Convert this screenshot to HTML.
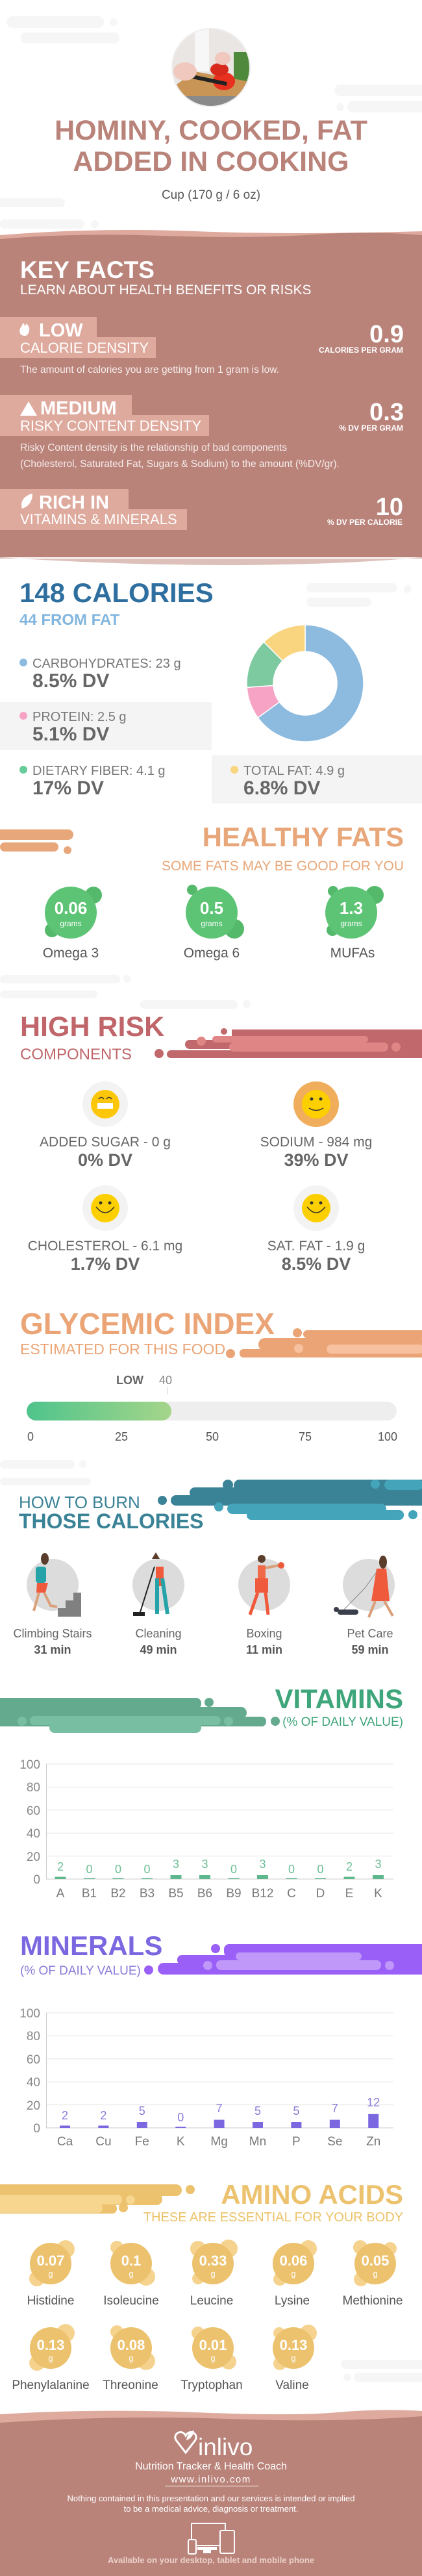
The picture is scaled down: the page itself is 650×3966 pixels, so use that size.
<!DOCTYPE html>
<html><head><meta charset="utf-8"><style>
html,body{margin:0;padding:0;background:#fff;}
svg{display:block;}
text{font-family:"Liberation Sans",sans-serif;}
</style></head><body>
<svg width="650" height="3966" viewBox="0 0 650 3966" xmlns="http://www.w3.org/2000/svg">
<rect width="650" height="3966" fill="#fff"/>
<g fill="#f6f6f6">
<rect x="10" y="25" width="150" height="18" rx="9"/><rect x="32" y="50" width="152" height="17" rx="8"/><circle cx="175" cy="34" r="6"/>
<rect x="515" y="130" width="160" height="18" rx="9"/><rect x="535" y="155" width="130" height="18" rx="9"/><circle cx="524" cy="165" r="6"/>
<rect x="-10" y="305" width="110" height="14" rx="7"/><rect x="0" y="338" width="130" height="14" rx="7"/><circle cx="146" cy="345" r="6"/>
<rect x="472" y="898" width="140" height="14" rx="7"/><rect x="472" y="920" width="100" height="14" rx="7"/><circle cx="628" cy="907" r="6"/>
<rect x="0" y="1501" width="185" height="13" rx="6"/><rect x="0" y="1525" width="150" height="12" rx="6"/><circle cx="196" cy="1507" r="6"/>
<rect x="216" y="1540" width="150" height="13" rx="6"/><circle cx="380" cy="1546" r="6"/>
<rect x="0" y="2248" width="115" height="13" rx="6"/><rect x="0" y="2275" width="140" height="12" rx="6"/><circle cx="128" cy="2254" r="6"/>
<rect x="525" y="3633" width="140" height="14" rx="7"/><rect x="545" y="3653" width="120" height="14" rx="7"/><circle cx="535" cy="3660" r="6"/>
</g>
<clipPath id="ci"><circle cx="325" cy="104" r="59"/></clipPath>
<circle cx="325" cy="104" r="61" fill="#eee"/>
<g clip-path="url(#ci)">
<rect x="260" y="40" width="130" height="130" fill="#e9e6e4"/>
<rect x="300" y="40" width="22" height="70" fill="#f7f7f7"/>
<rect x="360" y="80" width="30" height="50" fill="#4f8a3c"/>
<polygon points="265,135 300,110 380,125 370,150 270,165" fill="#c99557"/>
<rect x="262" y="148" width="130" height="30" fill="#8a8a8a"/>
<ellipse cx="345" cy="125" rx="17" ry="14" fill="#e8301f"/>
<ellipse cx="338" cy="107" rx="14" ry="10" fill="#d82a1c"/>
<rect x="290" y="120" width="60" height="6" fill="#222" transform="rotate(12 320 123)"/>
<ellipse cx="285" cy="110" rx="18" ry="14" fill="#f0c8bd"/>
<ellipse cx="343" cy="90" rx="12" ry="10" fill="#f0c8bd"/>
<circle cx="272" cy="160" r="10" fill="#f29d27"/>
</g>
<g fill="#b9837a" font-weight="bold" font-size="43" text-anchor="middle">
<text x="325" y="215">HOMINY, COOKED, FAT</text>
<text x="325" y="263">ADDED IN COOKING</text>
</g>
<text x="325" y="306" font-size="19" fill="#555" text-anchor="middle">Cup (170 g / 6 oz)</text>

<path d="M0 362 Q150 350 300 356 T650 356 L650 380 L0 380Z" fill="#dfaa9e"/>
<path d="M0 368 Q120 358 250 363 Q400 368 500 360 Q580 356 650 362 L650 858 L0 858Z" fill="#b9837a"/>
<path d="M0 858 Q180 870 350 870 Q520 870 650 858 L650 860 L0 860Z" fill="#dcc0b9"/>
<text x="31" y="428" font-size="37" font-weight="bold" fill="#fff">KEY FACTS</text>
<text x="31" y="453" font-size="21" fill="#fff">LEARN ABOUT HEALTH BENEFITS OR RISKS</text>
<g fill="#dfaa9e">
<rect x="0" y="488" width="149" height="32"/><rect x="0" y="519" width="240" height="32"/>
<rect x="0" y="608" width="203" height="32"/><rect x="0" y="639" width="322" height="32"/>
<rect x="0" y="753" width="198" height="32"/><rect x="0" y="784" width="288" height="32"/>
</g>
<g fill="#fff">
<path d="M38 517 c-7 0 -9 -6 -7 -11 c1 -3 4 -5 4 -9 c3 2 3 4 3 6 c1 -2 2 -3 2 -5 c4 3 6 7 5 11 c-1 5 -3 8 -7 8z"/>
<text x="60" y="518" font-size="29" font-weight="bold">LOW</text>
<text x="31" y="543" font-size="22">CALORIE DENSITY</text>
<text x="31" y="574" font-size="15.5" fill="#f6ebe8">The amount of calories you are getting from 1 gram is low.</text>
<text x="622" y="527" font-size="38" font-weight="bold" text-anchor="end">0.9</text>
<text x="621" y="543" font-size="12" font-weight="bold" text-anchor="end">CALORIES PER GRAM</text>
<path d="M44 618 L57 640 L31 640Z"/>
<text x="62" y="638" font-size="29" font-weight="bold">MEDIUM</text>
<text x="31" y="663" font-size="22">RISKY CONTENT DENSITY</text>
<text x="31" y="694" font-size="15.5" fill="#f6ebe8">Risky Content density is the relationship of bad components</text>
<text x="31" y="719" font-size="15.5" fill="#f6ebe8">(Cholesterol, Saturated Fat, Sugars &amp; Sodium) to the amount (%DV/gr).</text>
<text x="622" y="647" font-size="38" font-weight="bold" text-anchor="end">0.3</text>
<text x="621" y="663" font-size="12" font-weight="bold" text-anchor="end">% DV PER GRAM</text>
<path d="M34 783 C30 770 40 762 50 760 C50 772 44 780 34 783Z"/>
<text x="60" y="783" font-size="29" font-weight="bold">RICH  IN</text>
<text x="31" y="807" font-size="22">VITAMINS &amp; MINERALS</text>
<text x="621" y="793" font-size="38" font-weight="bold" text-anchor="end">10</text>
<text x="620" y="808" font-size="12" font-weight="bold" text-anchor="end">% DV PER CALORIE</text>
</g>

<text x="30" y="927" font-size="42" font-weight="bold" fill="#2f6f9f">148 CALORIES</text>
<text x="30" y="962" font-size="24" font-weight="bold" fill="#83b6de">44 FROM FAT</text>
<rect x="0" y="1081" width="326" height="74" fill="#f4f4f4"/>
<rect x="326" y="1163" width="324" height="74" fill="#f4f4f4"/>
<g font-size="20" fill="#777">
<circle cx="36" cy="1020" r="6" fill="#8dbbe0"/><text x="50" y="1028">CARBOHYDRATES: 23 g</text>
<circle cx="36" cy="1102" r="6" fill="#f7a3c6"/><text x="50" y="1110">PROTEIN: 2.5 g</text>
<circle cx="36" cy="1185" r="6" fill="#66cc99"/><text x="50" y="1193">DIETARY FIBER: 4.1 g</text>
<circle cx="361" cy="1185" r="6" fill="#f8d57e"/><text x="375" y="1193">TOTAL FAT: 4.9 g</text>
</g>
<g font-size="30" font-weight="bold" fill="#666">
<text x="50" y="1058">8.5% DV</text><text x="50" y="1140">5.1% DV</text>
<text x="50" y="1223">17% DV</text><text x="375" y="1223">6.8% DV</text>
</g>
<g stroke="#fff" stroke-width="1.5">
<path d="M470 962 A90 90 0 1 1 397.2 1104.9 L430.4 1080.8 A49 49 0 1 0 470 1003Z" fill="#8dbbe0"/>
<path d="M397.2 1104.9 A90 90 0 0 1 380.2 1058.3 L421.1 1055.4 A49 49 0 0 0 430.4 1080.8Z" fill="#f7a3c6"/>
<path d="M380.2 1058.3 A90 90 0 0 1 406.4 988.4 L435.4 1017.4 A49 49 0 0 0 421.1 1055.4Z" fill="#7dc9a0"/>
<path d="M406.4 988.4 A90 90 0 0 1 470 962 L470 1003 A49 49 0 0 0 435.4 1017.4Z" fill="#f8d57e"/>
</g>

<g fill="#e8a77a"><rect x="-10" y="1277" width="123" height="16" rx="8"/><rect x="0" y="1297" width="90" height="14" rx="7"/><circle cx="104" cy="1309" r="6"/></g>
<text x="622" y="1303" font-size="42" font-weight="bold" fill="#e8a77a" text-anchor="end">HEALTHY FATS</text>
<text x="622" y="1340" font-size="21" fill="#e8a77a" text-anchor="end">SOME FATS MAY BE GOOD FOR YOU</text>
<g fill="#55b96c">
<circle cx="144" cy="1378" r="13"/><circle cx="80" cy="1432" r="11"/>
<circle cx="296" cy="1370" r="8"/><circle cx="361" cy="1430" r="15"/>
<circle cx="577" cy="1378" r="14"/><circle cx="513" cy="1372" r="8"/><circle cx="512" cy="1432" r="9"/>
</g>
<g fill="#5dc476"><circle cx="109" cy="1405" r="40"/><circle cx="326" cy="1405" r="40"/><circle cx="541" cy="1405" r="40"/></g>
<g fill="#fff" text-anchor="middle">
<text x="109" y="1407" font-size="26" font-weight="bold">0.06</text><text x="109" y="1426" font-size="12">grams</text>
<text x="326" y="1407" font-size="26" font-weight="bold">0.5</text><text x="326" y="1426" font-size="12">grams</text>
<text x="541" y="1407" font-size="26" font-weight="bold">1.3</text><text x="541" y="1426" font-size="12">grams</text>
</g>
<g font-size="21" fill="#555" text-anchor="middle">
<text x="109" y="1474">Omega 3</text><text x="326" y="1474">Omega 6</text><text x="543" y="1474">MUFAs</text>
</g>

<g fill="#c0686b">
<rect x="357" y="1585" width="300" height="44"/><rect x="285" y="1601" width="120" height="14" rx="7"/>
<rect x="257" y="1617" width="120" height="12" rx="6"/><circle cx="245" cy="1622" r="7"/><circle cx="345" cy="1588" r="5"/>
</g>
<g fill="#e08585"><rect x="327" y="1595" width="240" height="10" rx="5"/><rect x="353" y="1605" width="245" height="14" rx="7"/><circle cx="310" cy="1603" r="7"/><circle cx="610" cy="1612" r="7"/></g>
<text x="31" y="1595" font-size="43" font-weight="bold" fill="#c0666a">HIGH RISK</text>
<text x="31" y="1631" font-size="24" fill="#c0666a">COMPONENTS</text>
<g>
<circle cx="162" cy="1700" r="35" fill="#f3f3f3"/><circle cx="162" cy="1700" r="22" fill="#fcc60a"/>
<rect x="150" y="1698" width="24" height="9" fill="#fff"/><path d="M152 1692 q4 -5 8 0 M164 1692 q4 -5 8 0" stroke="#333" stroke-width="1.5" fill="none"/>
<circle cx="487" cy="1700" r="35" fill="#f0ad5c"/><circle cx="487" cy="1700" r="22" fill="#fcd000"/>
<circle cx="162" cy="1860" r="35" fill="#f3f3f3"/><circle cx="162" cy="1860" r="22" fill="#fcd000"/>
<circle cx="487" cy="1860" r="35" fill="#f3f3f3"/><circle cx="487" cy="1860" r="22" fill="#fcd000"/>
<g fill="#333"><circle cx="480" cy="1692" r="2.5"/><circle cx="494" cy="1692" r="2.5"/><circle cx="155" cy="1852" r="2.5"/><circle cx="169" cy="1852" r="2.5"/><circle cx="480" cy="1852" r="2.5"/><circle cx="494" cy="1852" r="2.5"/></g>
<g stroke="#333" stroke-width="1.5" fill="none"><path d="M476 1706 q11 7 22 0"/><path d="M148 1858 q14 18 28 0"/><path d="M473 1858 q14 18 28 0"/></g>
</g>
<g font-size="21" fill="#666" text-anchor="middle">
<text x="162" y="1765">ADDED SUGAR - 0 g</text><text x="487" y="1765">SODIUM - 984 mg</text>
<text x="162" y="1925">CHOLESTEROL - 6.1 mg</text><text x="487" y="1925">SAT. FAT - 1.9 g</text>
</g>
<g font-size="27" font-weight="bold" fill="#666" text-anchor="middle">
<text x="162" y="1795">0% DV</text><text x="487" y="1795">39% DV</text>
<text x="162" y="1955">1.7% DV</text><text x="487" y="1955">8.5% DV</text>
</g>

<g fill="#eba475"><rect x="467" y="2048" width="190" height="12" rx="6"/><rect x="398" y="2060" width="260" height="20" rx="10"/><rect x="369" y="2077" width="290" height="13" rx="6"/><circle cx="458" cy="2052" r="7"/><circle cx="355" cy="2084" r="7"/></g>
<g fill="#f7c09e"><rect x="503" y="2070" width="150" height="14" rx="7"/><circle cx="460" cy="2076" r="7"/></g>
<text x="31" y="2054" font-size="46" font-weight="bold" fill="#eba475">GLYCEMIC INDEX</text>
<text x="31" y="2085" font-size="23" fill="#eba475">ESTIMATED FOR THIS FOOD</text>
<text x="179" y="2131" font-size="18" font-weight="bold" fill="#666">LOW</text>
<text x="245" y="2131" font-size="18" fill="#888">40</text>
<rect x="257.5" y="2136" width="1" height="10" fill="#ccc"/>
<defs><linearGradient id="gg" x1="0" x2="1"><stop offset="0" stop-color="#4fc48c"/><stop offset="1" stop-color="#a5d58a"/></linearGradient></defs>
<rect x="41" y="2158" width="570" height="29" rx="14.5" fill="#eeeeee"/>
<rect x="41" y="2158" width="223" height="29" rx="14.5" fill="url(#gg)"/>
<g font-size="18" fill="#555" text-anchor="middle">
<text x="47" y="2218">0</text><text x="187" y="2218">25</text><text x="327" y="2218">50</text><text x="470" y="2218">75</text><text x="597" y="2218">100</text>
</g>

<g fill="#3a8296"><rect x="360" y="2278" width="300" height="18" rx="9"/><rect x="292" y="2290" width="370" height="16" rx="8"/><rect x="263" y="2302" width="395" height="16" rx="8"/><circle cx="351" cy="2286" r="8"/><circle cx="250" cy="2310" r="7"/></g>
<g fill="#44a4ba"><rect x="350" y="2315" width="245" height="16" rx="8"/><rect x="380" y="2325" width="242" height="15" rx="7"/><circle cx="337" cy="2320" r="7"/><circle cx="636" cy="2332" r="7"/><rect x="592" y="2278" width="60" height="16" rx="8"/><circle cx="578" cy="2285" r="7"/></g>
<text x="29" y="2322" font-size="26" fill="#3a8296">HOW TO BURN</text>
<text x="29" y="2353" font-size="32" font-weight="bold" fill="#3a8296">THOSE CALORIES</text>
<g fill="#dcdcdc"><ellipse cx="81" cy="2440" rx="40" ry="40"/><ellipse cx="244" cy="2440" rx="40" ry="40"/><ellipse cx="407" cy="2440" rx="40" ry="40"/><ellipse cx="568" cy="2440" rx="40" ry="40"/></g>
<path d="M43 2489 L125 2489 L125 2452 L113 2452 L113 2464 L101 2464 L101 2476 L89 2476 L89 2489Z" fill="#808080"/>
<g>
<ellipse cx="69" cy="2400" rx="6" ry="9" fill="#5a3e2b"/><rect x="55" y="2412" width="16" height="25" rx="4" fill="#26a3a9"/>
<path d="M57 2437 L74 2437 L70 2452 L56 2452Z" fill="#f05a3c"/>
<path d="M60 2452 L52 2480 M68 2452 L78 2472 L88 2474" stroke="#d9a07a" stroke-width="4" fill="none"/>
<path d="M234 2400 l6 -10 l6 10z" fill="#5a3e2b"/><rect x="240" y="2412" width="12" height="30" fill="#f05a3c"/>
<path d="M242 2430 L242 2485 M250 2430 L258 2485" stroke="#26a3a9" stroke-width="6"/>
<path d="M238 2412 L215 2485" stroke="#222" stroke-width="2"/><rect x="205" y="2482" width="18" height="6" fill="#222"/>
<circle cx="403" cy="2400" r="6" fill="#5a3e2b"/><rect x="397" y="2410" width="12" height="20" fill="#f06a4a"/>
<path d="M409 2414 L430 2410" stroke="#d9a07a" stroke-width="4"/><circle cx="433" cy="2410" r="5" fill="#f05a3c"/>
<rect x="393" y="2430" width="20" height="22" fill="#f05a3c"/><path d="M397 2452 L385 2486 M409 2452 L413 2486" stroke="#f05a3c" stroke-width="5"/>
<ellipse cx="590" cy="2405" rx="6" ry="10" fill="#5a3e2b"/><path d="M580 2415 L595 2415 L600 2465 L572 2465Z" fill="#f05a3c"/>
<path d="M578 2465 L568 2490 M592 2465 L605 2488" stroke="#d9a07a" stroke-width="4"/>
<path d="M580 2420 L562 2445 L528 2480" stroke="#888" stroke-width="1" fill="none"/>
<rect x="520" y="2478" width="32" height="8" rx="4" fill="#3a3f4b"/><circle cx="518" cy="2478" r="4" fill="#3a3f4b"/>
</g>
<g font-size="18" fill="#666" text-anchor="middle">
<text x="81" y="2521">Climbing Stairs</text><text x="244" y="2521">Cleaning</text><text x="407" y="2521">Boxing</text><text x="570" y="2521">Pet Care</text>
</g>
<g font-size="18" font-weight="bold" fill="#555" text-anchor="middle">
<text x="81" y="2546">31 min</text><text x="244" y="2546">49 min</text><text x="407" y="2546">11 min</text><text x="570" y="2546">59 min</text>
</g>

<g fill="#64aa8e"><rect x="-10" y="2614" width="320" height="17" rx="8"/><rect x="-10" y="2628" width="390" height="18" rx="9"/><rect x="-10" y="2643" width="420" height="15" rx="7"/><circle cx="322" cy="2621" r="7"/><circle cx="424" cy="2650" r="7"/></g>
<g fill="#77bea2"><rect x="46" y="2642" width="294" height="14" rx="7"/><rect x="76" y="2652" width="234" height="16" rx="8"/><circle cx="34" cy="2650" r="7"/><circle cx="352" cy="2650" r="7"/></g>
<text x="621" y="2630" font-size="42" font-weight="bold" fill="#3fa57a" text-anchor="end">VITAMINS</text>
<text x="621" y="2657" font-size="19" fill="#3fa57a" text-anchor="end">(% OF DAILY VALUE)</text>
<g stroke="#e6e6e6" stroke-width="1"><line x1="71" y1="2716" x2="606" y2="2716"/><line x1="71" y1="2751.4" x2="606" y2="2751.4"/><line x1="71" y1="2786.8" x2="606" y2="2786.8"/><line x1="71" y1="2822.2" x2="606" y2="2822.2"/><line x1="71" y1="2857.6" x2="606" y2="2857.6"/></g>
<line x1="71.5" y1="2716" x2="71.5" y2="2893" stroke="#ccc"/><line x1="71" y1="2893" x2="606" y2="2893" stroke="#ccc"/>
<g font-size="19" fill="#888" text-anchor="end"><text x="62" y="2723">100</text><text x="62" y="2758">80</text><text x="62" y="2794">60</text><text x="62" y="2829">40</text><text x="62" y="2865">20</text><text x="62" y="2900">0</text></g>
<g fill="#5fb88d">
<rect x="84.5" y="2889.5" width="17" height="3.5"/><rect x="129" y="2891.5" width="17" height="1.5"/><rect x="173.5" y="2891.5" width="17" height="1.5"/><rect x="218" y="2891.5" width="17" height="1.5"/>
<rect x="262.5" y="2887" width="17" height="6"/><rect x="307" y="2887" width="17" height="6"/><rect x="351.5" y="2891.5" width="17" height="1.5"/><rect x="396" y="2887" width="17" height="6"/>
<rect x="440.5" y="2891.5" width="17" height="1.5"/><rect x="485" y="2891.5" width="17" height="1.5"/><rect x="529.5" y="2889.5" width="17" height="3.5"/><rect x="574" y="2887" width="17" height="6"/>
</g>
<g font-size="18" fill="#6cbf96" text-anchor="middle">
<text x="93" y="2880">2</text><text x="137.5" y="2884">0</text><text x="182" y="2884">0</text><text x="226.5" y="2884">0</text><text x="271" y="2876">3</text><text x="315.5" y="2876">3</text><text x="360" y="2884">0</text><text x="404.5" y="2876">3</text><text x="449" y="2884">0</text><text x="493.5" y="2884">0</text><text x="538" y="2880">2</text><text x="582.5" y="2876">3</text>
</g>
<g font-size="19" fill="#777" text-anchor="middle">
<text x="93" y="2921">A</text><text x="137.5" y="2921">B1</text><text x="182" y="2921">B2</text><text x="226.5" y="2921">B3</text><text x="271" y="2921">B5</text><text x="315.5" y="2921">B6</text><text x="360" y="2921">B9</text><text x="404.5" y="2921">B12</text><text x="449" y="2921">C</text><text x="493.5" y="2921">D</text><text x="538" y="2921">E</text><text x="582.5" y="2921">K</text>
</g>

<g fill="#9a5ff7"><rect x="345" y="2993" width="320" height="20" rx="8"/><rect x="273" y="3010" width="385" height="15" rx="7"/><rect x="243" y="3022" width="415" height="18" rx="9"/><circle cx="332" cy="3000" r="7"/><circle cx="229" cy="3033" r="7"/></g>
<g fill="#bf98fa"><rect x="363" y="3006" width="194" height="12" rx="6"/><rect x="333" y="3018" width="254" height="15" rx="7"/><circle cx="320" cy="3026" r="7"/><circle cx="600" cy="3026" r="7"/></g>
<text x="31" y="3010" font-size="42" font-weight="bold" fill="#7b68e0">MINERALS</text>
<text x="31" y="3040" font-size="19" fill="#8a7bd9">(% OF DAILY VALUE)</text>
<g stroke="#e6e6e6" stroke-width="1"><line x1="71" y1="3099" x2="606" y2="3099"/><line x1="71" y1="3134.4" x2="606" y2="3134.4"/><line x1="71" y1="3169.8" x2="606" y2="3169.8"/><line x1="71" y1="3205.2" x2="606" y2="3205.2"/><line x1="71" y1="3240.6" x2="606" y2="3240.6"/></g>
<line x1="71.5" y1="3099" x2="71.5" y2="3276" stroke="#ccc"/><line x1="71" y1="3276" x2="606" y2="3276" stroke="#ccc"/>
<g font-size="19" fill="#888" text-anchor="end"><text x="62" y="3106">100</text><text x="62" y="3141">80</text><text x="62" y="3177">60</text><text x="62" y="3212">40</text><text x="62" y="3248">20</text><text x="62" y="3283">0</text></g>
<g fill="#7b68e0">
<rect x="92" y="3272.5" width="16" height="3.5"/><rect x="151.4" y="3272.5" width="16" height="3.5"/><rect x="210.8" y="3267" width="16" height="9"/><rect x="270.2" y="3274.5" width="16" height="1.5"/><rect x="329.6" y="3263.6" width="16" height="12.4"/><rect x="389" y="3267" width="16" height="9"/><rect x="448.4" y="3267" width="16" height="9"/><rect x="507.8" y="3263.6" width="16" height="12.4"/><rect x="567.2" y="3254.8" width="16" height="21.2"/>
</g>
<g font-size="18" fill="#8a7bd9" text-anchor="middle">
<text x="100" y="3263">2</text><text x="159.4" y="3263">2</text><text x="218.8" y="3256">5</text><text x="278.2" y="3266">0</text><text x="337.6" y="3252">7</text><text x="397" y="3256">5</text><text x="456.4" y="3256">5</text><text x="515.8" y="3252">7</text><text x="575.2" y="3243">12</text>
</g>
<g font-size="19" fill="#777" text-anchor="middle">
<text x="100" y="3303">Ca</text><text x="159.4" y="3303">Cu</text><text x="218.8" y="3303">Fe</text><text x="278.2" y="3303">K</text><text x="337.6" y="3303">Mg</text><text x="397" y="3303">Mn</text><text x="456.4" y="3303">P</text><text x="515.8" y="3303">Se</text><text x="575.2" y="3303">Zn</text>
</g>

<g fill="#ecc26e"><rect x="-10" y="3363" width="290" height="18" rx="9"/><rect x="-10" y="3377" width="260" height="18" rx="9"/><rect x="-10" y="3393" width="190" height="15" rx="7"/><circle cx="293" cy="3371" r="7"/><circle cx="190" cy="3399" r="7"/></g>
<g fill="#f7d68f"><rect x="-10" y="3379" width="198" height="15" rx="7"/><rect x="-10" y="3393" width="168" height="14" rx="7"/><circle cx="201" cy="3387" r="7"/></g>
<text x="621" y="3393" font-size="42" font-weight="bold" fill="#ecc26e" text-anchor="end">AMINO ACIDS</text>
<text x="621" y="3420" font-size="20" fill="#edc36a" text-anchor="end">THESE ARE ESSENTIAL FOR YOUR BODY</text>
<g fill="#f5d38e">
<circle cx="101" cy="3463" r="14"/><circle cx="57" cy="3508" r="12"/>
<circle cx="180" cy="3460" r="10"/><circle cx="225" cy="3505" r="14"/>
<circle cx="305" cy="3462" r="12"/><circle cx="352" cy="3462" r="14"/><circle cx="305" cy="3508" r="9"/>
<circle cx="475" cy="3462" r="13"/><circle cx="431" cy="3509" r="10"/>
<circle cx="555" cy="3460" r="11"/><circle cx="601" cy="3462" r="10"/><circle cx="556" cy="3509" r="11"/>
<circle cx="101" cy="3592" r="14"/><circle cx="57" cy="3638" r="12"/>
<circle cx="180" cy="3590" r="10"/><circle cx="225" cy="3635" r="14"/>
<circle cx="305" cy="3592" r="10"/><circle cx="352" cy="3636" r="12"/>
<circle cx="475" cy="3592" r="13"/><circle cx="431" cy="3639" r="10"/><circle cx="430" cy="3592" r="9"/>
</g>
<g fill="#ecc26e">
<circle cx="78" cy="3485" r="32"/><circle cx="202" cy="3485" r="32"/><circle cx="328" cy="3485" r="32"/><circle cx="452" cy="3485" r="32"/><circle cx="578" cy="3485" r="32"/>
<circle cx="78" cy="3615" r="32"/><circle cx="202" cy="3615" r="32"/><circle cx="328" cy="3615" r="32"/><circle cx="452" cy="3615" r="32"/>
</g>
<g fill="#fff" text-anchor="middle" font-weight="bold" font-size="22">
<text x="78" y="3488">0.07</text><text x="202" y="3488">0.1</text><text x="328" y="3488">0.33</text><text x="452" y="3488">0.06</text><text x="578" y="3488">0.05</text>
<text x="78" y="3618">0.13</text><text x="202" y="3618">0.08</text><text x="328" y="3618">0.01</text><text x="452" y="3618">0.13</text>
</g>
<g fill="#fff" text-anchor="middle" font-size="13">
<text x="78" y="3505">g</text><text x="202" y="3505">g</text><text x="328" y="3505">g</text><text x="452" y="3505">g</text><text x="578" y="3505">g</text>
<text x="78" y="3635">g</text><text x="202" y="3635">g</text><text x="328" y="3635">g</text><text x="452" y="3635">g</text>
</g>
<g font-size="19" fill="#555" text-anchor="middle">
<text x="78" y="3548">Histidine</text><text x="202" y="3548">Isoleucine</text><text x="326" y="3548">Leucine</text><text x="450" y="3548">Lysine</text><text x="574" y="3548">Methionine</text>
<text x="78" y="3678">Phenylalanine</text><text x="201" y="3678">Threonine</text><text x="326" y="3678">Tryptophan</text><text x="450" y="3678">Valine</text>
</g>

<path d="M0 3717 Q150 3708 300 3714 Q450 3720 520 3714 Q590 3708 650 3712 L650 3740 L0 3740Z" fill="#dfaa9e"/>
<path d="M0 3730 Q180 3718 350 3724 Q520 3730 650 3720 L650 3966 L0 3966Z" fill="#b9837a"/>
<path d="M272 3758 c-8 -10 8 -20 14 -8 c6 -12 22 -2 14 8 l-14 18z" fill="none" stroke="#fff" stroke-width="3"/>
<path d="M287 3757 c2 -10 6 -14 12 -15 c-1 7 -5 13 -12 15z" fill="#fff"/>
<text x="305" y="3780" font-size="37" fill="#fff">inlivo</text>
<text x="325" y="3802" font-size="16" fill="#fff" text-anchor="middle">Nutrition Tracker &amp; Health Coach</text>
<text x="325" y="3822" font-size="15" fill="#fff" text-anchor="middle" letter-spacing="1.5">www.inlivo.com</text>
<rect x="254" y="3827" width="144" height="1" fill="#fff"/>
<text x="325" y="3851" font-size="13" fill="#fff" text-anchor="middle">Nothing contained in this presentation and our services is intended or implied</text>
<text x="325" y="3867" font-size="13" fill="#fff" text-anchor="middle">to be a medical advice, diagnosis or treatment.</text>
<g fill="none" stroke="#fff" stroke-width="2"><rect x="295" y="3885" width="52" height="34"/><rect x="339" y="3896" width="22" height="35" rx="2" fill="#b9837a"/><rect x="290" y="3910" width="12" height="22" rx="2" fill="#b9837a"/></g>
<rect x="304" y="3921" width="30" height="5" fill="#fff"/><rect x="313" y="3926" width="12" height="5" fill="#fff"/>
<text x="325" y="3946" font-size="13" font-weight="bold" fill="#ebd0ca" text-anchor="middle">Available on your desktop, tablet and mobile phone</text>
</svg>
</body></html>
